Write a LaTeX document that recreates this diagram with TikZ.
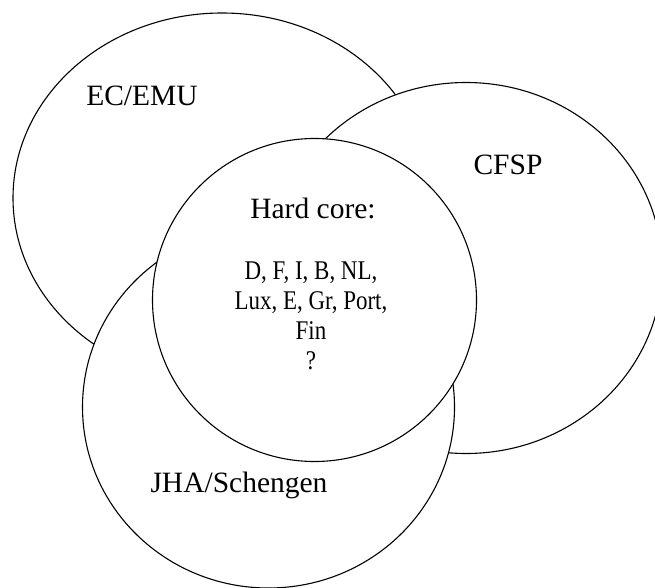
\documentclass[tikz,border=0pt]{standalone}
\usepackage{fontspec}
\setmainfont{Liberation Serif}
\newfontfamily\listfont{Liberation Serif}[FakeStretch=0.85]
\usepackage{tikz}
\usetikzlibrary{shapes.geometric}

\begin{document}
\begin{tikzpicture}[x=1pt, y=-1pt,
    pillar/.style={draw, fill=white, ellipse, line width=1.1pt, inner sep=0pt},
    lbl/.style={anchor=base, inner sep=0pt, font=\fontsize{29.5}{32}\selectfont},
]
\useasboundingbox (0,0) rectangle (655,588);
\node[pillar, minimum width=418, minimum height=370] (ec) at (222,198) {};
\node[pillar, minimum width=392, minimum height=371] (cfsp) at (466,268) {};
\node[pillar, minimum width=372, minimum height=362] (jha) at (268.5,407) {};
\node[pillar, minimum width=324, minimum height=323] (core) at (314.5,300) {};

\node[lbl] (eclbl) at (142,106) {EC/EMU};
\node[lbl] (cfsplbl) at (508,174.5) {CFSP};
\node[lbl] (corelbl) at (313,218) {Hard core:};
\node[anchor=north, inner sep=0pt, align=center,
      font=\listfont\fontsize{27}{30}\selectfont] (members) at (311,262)
      {D, F, I, B, NL,\\Lux, E, Gr, Port,\\Fin\\?};
\node[lbl] (jhalbl) at (239,492) {JHA/Schengen};
\end{tikzpicture}
\end{document}
